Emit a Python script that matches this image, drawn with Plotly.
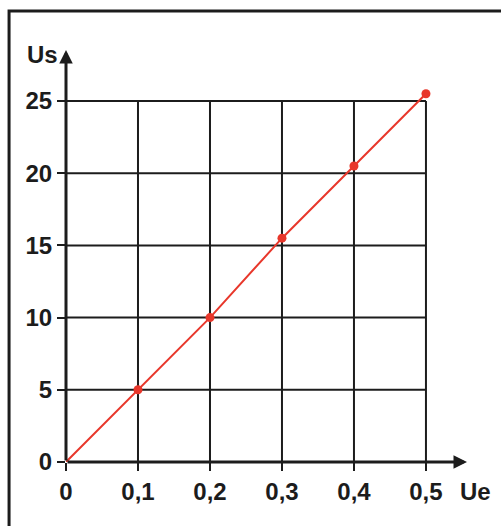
import plotly.graph_objects as go

# Input voltage Ue and output voltage Us
ue = [0, 0.1, 0.2, 0.3, 0.4, 0.5]
us = [0, 5, 10, 15.5, 20.5, 25.5]

x_ticks = [0, 0.1, 0.2, 0.3, 0.4, 0.5]
x_labels = ["0", "0,1", "0,2", "0,3", "0,4", "0,5"]
y_ticks = [0, 5, 10, 15, 20, 25]
y_labels = ["0", "5", "10", "15", "20", "25"]

X_END = 0.557   # tip of the Ue arrow
Y_END = 28.53   # tip of the Us arrow

FONT = "Liberation Sans, Arial, sans-serif"
INK = "#1c1c1c"
RED = "#e8372b"

fig = go.Figure()

# characteristic line through all measured points
fig.add_trace(go.Scatter(
    x=ue, y=us, mode="lines",
    line=dict(color=RED, width=2),
    cliponaxis=False, showlegend=False, hoverinfo="skip",
))
# measured points (the origin sits under the axes, so it gets no dot)
fig.add_trace(go.Scatter(
    x=ue[1:], y=us[1:], mode="markers",
    marker=dict(color=RED, size=9, line=dict(width=0)),
    cliponaxis=False, showlegend=False, hoverinfo="skip",
))

shapes = []
# grid: vertical lines at each Ue tick, horizontal lines at each Us tick
for xv in x_ticks[1:]:
    shapes.append(dict(type="line", xref="x", yref="y", x0=xv, x1=xv,
                       y0=0, y1=y_ticks[-1], line=dict(color=INK, width=2), layer="below"))
for yv in y_ticks[1:]:
    shapes.append(dict(type="line", xref="x", yref="y", x0=0, x1=x_ticks[-1],
                       y0=yv, y1=yv, line=dict(color=INK, width=2), layer="below"))
# outer frame
shapes.append(dict(type="rect", xref="paper", yref="paper", x0=-0.142, x1=1.3,
                   y0=-0.4, y1=1.0947, line=dict(color=INK, width=3)))

annotations = [
    # axes drawn as arrows from the origin
    dict(x=X_END, y=0, ax=0, ay=0, xref="x", yref="y", axref="x", ayref="y",
         showarrow=True, arrowhead=2, arrowsize=0.9, arrowwidth=3, arrowcolor=INK,
         text="", standoff=0, startstandoff=0),
    dict(x=0, y=Y_END, ax=0, ay=0, xref="x", yref="y", axref="x", ayref="y",
         showarrow=True, arrowhead=2, arrowsize=0.9, arrowwidth=3, arrowcolor=INK,
         text="", standoff=0, startstandoff=0),
    dict(x=0, y=Y_END, xref="x", yref="y", text="<b>Us</b>", showarrow=False,
         xanchor="right", yanchor="top", xshift=-6, yshift=11,
         font=dict(family=FONT, size=24, color=INK)),
    dict(x=X_END, y=0, xref="x", yref="y", text="<b>Ue</b>", showarrow=False,
         xanchor="center", yanchor="top", xshift=8, yshift=-14,
         font=dict(family=FONT, size=24, color=INK)),
]

fig.update_layout(
    width=501, height=526,
    margin=dict(l=66, r=34, t=50, b=64),
    paper_bgcolor="white", plot_bgcolor="white",
    shapes=shapes, annotations=annotations,
    font=dict(family=FONT, color=INK),
)

fig.update_xaxes(
    range=[0, X_END], tickvals=x_ticks, ticktext=["<b>%s</b>" % t for t in x_labels],
    showgrid=False, zeroline=False, showline=False,
    ticks="outside", ticklen=8, tickwidth=2, tickcolor=INK,
    tickfont=dict(family=FONT, size=24, color=INK),
)
fig.update_yaxes(
    range=[0, Y_END], tickvals=y_ticks, ticktext=["<b>%s</b>" % t for t in y_labels],
    showgrid=False, zeroline=False, showline=False,
    ticks="outside", ticklen=8, tickwidth=2, tickcolor=INK,
    tickfont=dict(family=FONT, size=24, color=INK),
)

fig.write_html("out.html")
